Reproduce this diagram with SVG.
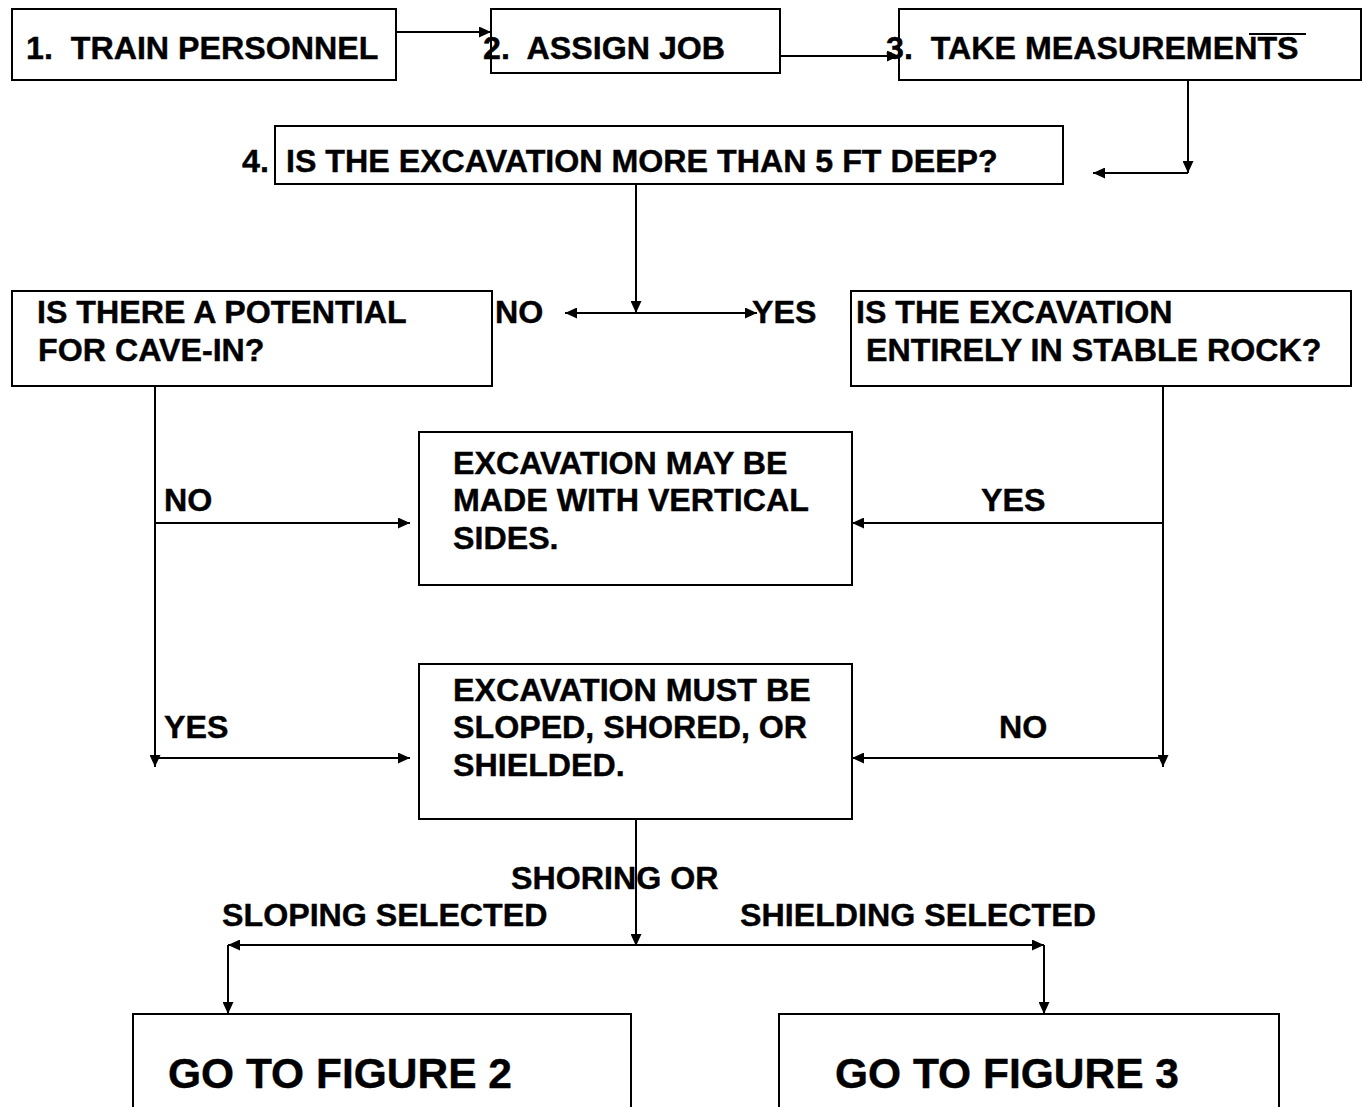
<svg xmlns="http://www.w3.org/2000/svg" width="1366" height="1107" viewBox="0 0 1366 1107">
<style>
.box{fill:#fff;stroke:#000;stroke-width:2}
.t{font-family:"Liberation Sans",Arial,sans-serif;font-weight:bold;font-size:32.2px;fill:#000;stroke:#000;stroke-width:0.4}
.big{font-size:42.5px}
.ln{stroke:#000;stroke-width:2;fill:none}
</style>
<defs>
<marker id="ah" markerUnits="userSpaceOnUse" markerWidth="13" markerHeight="11" refX="12" refY="5.5" orient="auto-start-reverse">
<path d="M0,0 L12,5.5 L0,11 Z" fill="#000"/>
</marker>
</defs>
<rect width="1366" height="1107" fill="#fff"/>
<g id="n1"><rect class="box" x="12" y="9" width="384" height="71"/><text class="t" x="26" y="59" xml:space="preserve">1.  TRAIN PERSONNEL</text></g>
<g id="n2"><rect class="box" x="491" y="9" width="289" height="64"/><text class="t" x="483" y="59" xml:space="preserve">2.  ASSIGN JOB</text></g>
<g id="n3"><rect class="box" x="899" y="9" width="462" height="71"/><text class="t" x="886" y="59" xml:space="preserve">3.  TAKE MEASUREMENTS</text><line class="ln" x1="1249" y1="34" x2="1306" y2="34"/></g>
<g id="n4"><rect class="box" x="275" y="126" width="788" height="58"/><text class="t" x="242" y="172">4.</text><text class="t" x="286" y="172">IS THE EXCAVATION MORE THAN 5 FT DEEP?</text></g>
<g id="n5"><rect class="box" x="12" y="291" width="480" height="95"/><text class="t" x="37" y="323">IS THERE A POTENTIAL</text><text class="t" x="38" y="361">FOR CAVE-IN?</text></g>
<g id="n6"><rect class="box" x="851" y="291" width="500" height="95"/><text class="t" x="856" y="323">IS THE EXCAVATION</text><text class="t" x="866" y="361">ENTIRELY IN STABLE ROCK?</text></g>
<g id="n7"><rect class="box" x="419" y="432" width="433" height="153"/><text class="t" x="453" y="474">EXCAVATION MAY BE</text><text class="t" x="453" y="511">MADE WITH VERTICAL</text><text class="t" x="453" y="549">SIDES.</text></g>
<g id="n8"><rect class="box" x="419" y="664" width="433" height="155"/><text class="t" x="453" y="701">EXCAVATION MUST BE</text><text class="t" x="453" y="738">SLOPED, SHORED, OR</text><text class="t" x="453" y="776">SHIELDED.</text></g>
<g id="n9"><rect class="box" x="133" y="1014" width="498" height="110"/><text class="t big" x="168" y="1088">GO TO FIGURE 2</text></g>
<g id="n10"><rect class="box" x="779" y="1014" width="500" height="110"/><text class="t big" x="835" y="1088">GO TO FIGURE 3</text></g>
<g id="connectors">
<line class="ln" x1="396" y1="32" x2="491" y2="32" marker-end="url(#ah)"/>
<line class="ln" x1="780" y1="56" x2="899" y2="56" marker-end="url(#ah)"/>
<line class="ln" x1="1188" y1="80" x2="1188" y2="173" marker-end="url(#ah)"/>
<line class="ln" x1="1188" y1="173" x2="1093" y2="173" marker-end="url(#ah)"/>
<line class="ln" x1="636" y1="184" x2="636" y2="313" marker-end="url(#ah)"/>
<line class="ln" x1="565" y1="313" x2="757" y2="313" marker-start="url(#ah)" marker-end="url(#ah)"/>
<line class="ln" x1="155" y1="386" x2="155" y2="767" marker-end="url(#ah)"/>
<line class="ln" x1="155" y1="523" x2="410" y2="523" marker-end="url(#ah)"/>
<line class="ln" x1="155" y1="758" x2="410" y2="758" marker-end="url(#ah)"/>
<line class="ln" x1="1163" y1="386" x2="1163" y2="767" marker-end="url(#ah)"/>
<line class="ln" x1="1163" y1="523" x2="852" y2="523" marker-end="url(#ah)"/>
<line class="ln" x1="1163" y1="758" x2="852" y2="758" marker-end="url(#ah)"/>
<line class="ln" x1="636" y1="819" x2="636" y2="946" marker-end="url(#ah)"/>
<line class="ln" x1="228" y1="945" x2="1044" y2="945" marker-start="url(#ah)" marker-end="url(#ah)"/>
<line class="ln" x1="228" y1="945" x2="228" y2="1014" marker-end="url(#ah)"/>
<line class="ln" x1="1044" y1="945" x2="1044" y2="1014" marker-end="url(#ah)"/>
<text class="t" x="495" y="323">NO</text>
<text class="t" x="752" y="323">YES</text>
<text class="t" x="164" y="511">NO</text>
<text class="t" x="981" y="511">YES</text>
<text class="t" x="164" y="738">YES</text>
<text class="t" x="999" y="738">NO</text>
<text class="t" x="511" y="889">SHORING OR</text>
<text class="t" x="222" y="926">SLOPING SELECTED</text>
<text class="t" x="740" y="926">SHIELDING SELECTED</text>
</g>
</svg>
